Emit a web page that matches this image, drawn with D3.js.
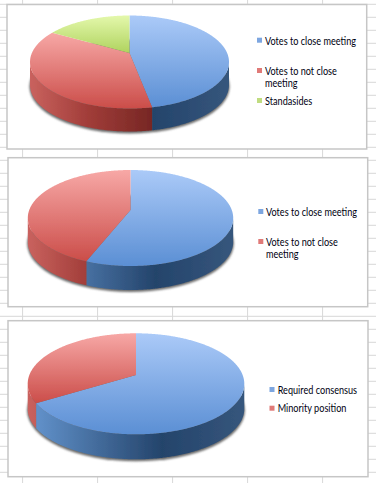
<!DOCTYPE html>
<html><head><meta charset="utf-8">
<script src="https://cdn.jsdelivr.net/npm/d3@7/dist/d3.min.js"></script>
<style>html,body{margin:0;padding:0;background:#fff}svg{display:block}text{font-family:Lato,"Open Sans",sans-serif;font-size:11.2px;fill:#000010}</style>
</head><body><svg id="c" width="376" height="483"></svg>
<script>
// Data
const categoriesA = ["Votes to close meeting", "Votes to not close meeting", "Standasides"];
const valuesA = [47, 36.3, 16.7];
const categoriesB = ["Votes to close meeting", "Votes to not close meeting"];
const valuesB = [56, 44];
const categoriesC = ["Required consensus", "Minority position"];
const valuesC = [66.2, 33.8];

// Styles
const topColors = [["#abcaf8", "#5b8fd4"], ["#f7a8a6", "#cb4d49"], ["#e4f8ac", "#afd35e"]];
const sideStops = [
  [[0, "#6596d0"], [0.62, "#24446b"], [1, "#36567c"]],
  [[0, "#c9625e"], [0.3, "#a03c38"], [0.61, "#772724"], [1, "#772724"]],
  [[0, "#b0d060"], [1, "#708a30"]]
];
const swatchColors = ["#7da6e0", "#e07a78", "#c0dc80"];

// Layout
const layouts = [
  {frame: [7, 4.5, 366.7, 149], cx: 129.5, cy: 62, rx: 99.5, ry: 46.5, apex: 53, depth: 23,
   swatchX: 257, textX: 265, items: [[37.7, [44.7]], [68, [74.7, 86.7]], [98, [104.7]]]},
  {frame: [8, 157.7, 367.7, 306.7], cx: 130.5, cy: 218, rx: 102.7, ry: 48, apex: 210, depth: 24,
   swatchX: 258.3, textX: 266, items: [[209, [216]], [239, [245.7, 258]]]},
  {frame: [8, 320.7, 368, 476.7], cx: 136, cy: 383.8, rx: 108.3, ry: 50.5, apex: 375, depth: 25,
   swatchX: 269.5, textX: 277.7, items: [[387, [394]], [405.7, [411.7]]]}
];
const wrapped = {"Votes to not close meeting": ["Votes to not close", "meeting"]};
const textSqueeze = 0.815;

const svg = d3.select("#c");
const defs = svg.append("defs");
defs.append("filter").attr("id", "sh").attr("x", "-10%").attr("y", "-20%").attr("width", "120%").attr("height", "140%")
  .append("feGaussianBlur").attr("stdDeviation", 1.3);
defs.append("filter").attr("id", "soft").attr("x", "-5%").attr("y", "-5%").attr("width", "110%").attr("height", "110%")
  .append("feGaussianBlur").attr("stdDeviation", 0.45);

// Spreadsheet grid behind the charts
const grid = svg.append("g").attr("stroke", "#d8d8d8").attr("stroke-width", 1);
grid.selectAll("line.r").data(d3.range(4.3, 483, 13)).join("line").attr("class", "r")
  .attr("x1", 0).attr("x2", 376).attr("y1", d => d).attr("y2", d => d);
grid.selectAll("line.k").data(d3.range(22.6, 376, 75)).join("line").attr("class", "k")
  .attr("x1", d => d).attr("x2", d => d).attr("y1", 0).attr("y2", 483);

const line = d3.line().curve(d3.curveLinear);

function drawPie(g, i, cats, vals) {
  const L = layouts[i];
  const a = (L.apex - L.cy) / L.ry;
  const k = Math.sqrt(1 - a * a);
  const sx = d3.scaleLinear().domain([-1, 1]).range([L.cx - L.rx, L.cx + L.rx]);
  const sy = d3.scaleLinear().domain([-1, 1]).range([L.cy - L.ry, L.cy + L.ry]);
  // perspective projection of the unit disc onto the top ellipse
  const proj = (t) => {
    const u = Math.sin(t), v = -Math.cos(t);
    return [sx(k * u / (1 + a * v)), sy((v + a) / (1 + a * v))];
  };
  const sample = (t0, t1) => {
    const n = Math.max(2, Math.ceil((t1 - t0) / 0.01));
    return d3.range(n + 1).map(j => proj(t0 + (t1 - t0) * j / n));
  };
  const arcs = d3.pie().sort(null)(vals);
  const tR = Math.acos(a), tL = 2 * Math.PI - tR;

  // shadow
  g.append("ellipse").attr("cx", L.cx).attr("cy", L.cy + L.depth + 1.6)
    .attr("rx", L.rx + 0.6).attr("ry", L.ry + 0.4).attr("fill", "#6a6a6a").attr("filter", "url(#sh)");

  const pie = g.append("g").attr("filter", "url(#soft)");
  // side walls
  arcs.forEach((d, s) => {
    const t0 = Math.max(d.startAngle, tR), t1 = Math.min(d.endAngle, tL);
    if (t1 <= t0) return;
    const id = `side${i}_${s}`;
    const grad = defs.append("linearGradient").attr("id", id).attr("gradientUnits", "userSpaceOnUse")
      .attr("x1", sx(-1)).attr("x2", sx(1)).attr("y1", 0).attr("y2", 0);
    sideStops[s].forEach(st => grad.append("stop").attr("offset", st[0]).attr("stop-color", st[1]));
    const front = sample(t0, t1);
    const back = front.slice().reverse().map(p => [p[0], p[1] + L.depth]);
    pie.append("path").attr("d", line(front.concat(back)) + "Z").attr("fill", `url(#${id})`);
  });
  // top faces
  arcs.forEach((d, s) => {
    const id = `top${i}_${s}`;
    const grad = defs.append("linearGradient").attr("id", id).attr("x1", 0).attr("x2", 0).attr("y1", 0).attr("y2", 1);
    grad.append("stop").attr("offset", 0).attr("stop-color", topColors[s][0]);
    grad.append("stop").attr("offset", 1).attr("stop-color", topColors[s][1]);
    const pts = [[L.cx, L.apex]].concat(sample(d.startAngle, d.endAngle));
    pie.append("path").attr("d", line(pts) + "Z").attr("fill", `url(#${id})`);
  });

  // legend
  cats.forEach((c, s) => {
    const it = L.items[s];
    g.append("rect").attr("x", L.swatchX).attr("y", it[0]).attr("width", 5).attr("height", 5).attr("fill", swatchColors[s]);
    (wrapped[c] || [c]).forEach((t, j) => {
      g.append("text").attr("transform", `translate(${L.textX},${it[1][j]}) scale(${textSqueeze},1)`).text(t);
    });
  });
}

[[categoriesA, valuesA], [categoriesB, valuesB], [categoriesC, valuesC]].forEach((d, i) => {
  const f = layouts[i].frame;
  const g = svg.append("g");
  g.append("rect").attr("x", f[0]).attr("y", f[1]).attr("width", f[2] - f[0]).attr("height", f[3] - f[1])
    .attr("fill", "#fff").attr("stroke", "#c6c6c6").attr("stroke-width", 1.5);
  drawPie(g, i, d[0], d[1]);
});
</script></body></html>
